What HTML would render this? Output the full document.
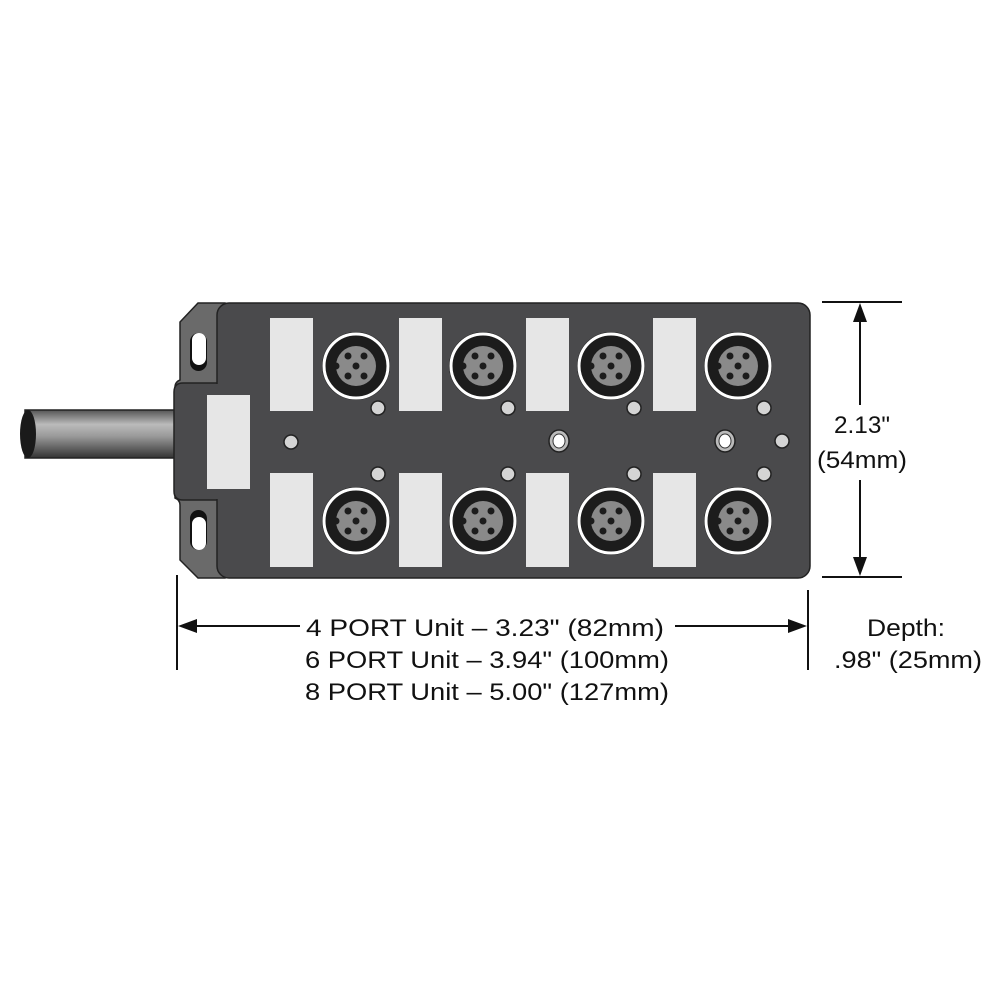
<!DOCTYPE html>
<html><head><style>body{margin:0;background:#fff}svg{display:block}</style></head><body>
<svg width="1000" height="1000" viewBox="0 0 1000 1000" xmlns="http://www.w3.org/2000/svg" font-family="'Liberation Sans Narrow','Liberation Sans',sans-serif">
<defs>
<linearGradient id="cab" x1="0" y1="0" x2="0" y2="1">
<stop offset="0" stop-color="#555"/><stop offset="0.3" stop-color="#bbb"/><stop offset="0.55" stop-color="#999"/><stop offset="1" stop-color="#333"/>
</linearGradient>
<g id="con">
<circle r="34" fill="#1c1c1c"/><circle r="32" fill="none" stroke="#fff" stroke-width="3"/>
<circle r="28" fill="#1c1c1c"/><circle r="20" fill="#8a8a8a"/>
<circle cx="-20" cy="0" r="3.5" fill="#1c1c1c"/>
<circle cx="-8" cy="-10" r="3.5" fill="#1c1c1c"/><circle cx="8" cy="-10" r="3.5" fill="#1c1c1c"/>
<circle cx="0" cy="0" r="3.5" fill="#1c1c1c"/>
<circle cx="-8" cy="10" r="3.5" fill="#1c1c1c"/><circle cx="8" cy="10" r="3.5" fill="#1c1c1c"/>
</g>
<g id="led"><circle r="7" fill="#d4d4d4" stroke="#222" stroke-width="1.5"/></g>
</defs>
<rect x="25" y="410" width="155" height="48" fill="url(#cab)" stroke="#222" stroke-width="1.5"/>
<ellipse cx="28" cy="434" rx="8" ry="24" fill="#1a1a1a"/>
<path d="M198 303 L225 303 L225 578 L198 578 L180 560 L180 505 Q180 500 175 498 L175 387 Q175 382 180 380 L180 322 Z" fill="#6a6a6a" stroke="#222" stroke-width="1.5"/>
<rect x="190" y="333" width="17" height="38" rx="8.5" fill="#111"/>
<rect x="192" y="333" width="14" height="32" rx="7" fill="#fff"/>
<rect x="190" y="510" width="17" height="40" rx="8.5" fill="#111"/>
<rect x="192" y="517" width="14" height="33" rx="7" fill="#fff"/>
<path d="M174 392 Q174 383 183 383 L230 383 L230 500 L183 500 Q174 500 174 491 Z" fill="#4a4a4c" stroke="#222" stroke-width="1.5"/>
<rect x="217" y="303" width="593" height="275" rx="12" fill="#4a4a4c" stroke="#222" stroke-width="1.5"/>
<rect x="212" y="384" width="10" height="115" fill="#4a4a4c"/>
<g fill="#e6e6e6">
<rect x="207" y="395" width="43" height="94"/>
<rect x="270" y="318" width="43" height="93"/><rect x="399" y="318" width="43" height="93"/><rect x="526" y="318" width="43" height="93"/><rect x="653" y="318" width="43" height="93"/>
<rect x="270" y="473" width="43" height="94"/><rect x="399" y="473" width="43" height="94"/><rect x="526" y="473" width="43" height="94"/><rect x="653" y="473" width="43" height="94"/>
</g>
<use href="#con" x="356" y="366"/><use href="#con" x="483" y="366"/><use href="#con" x="611" y="366"/><use href="#con" x="738" y="366"/>
<use href="#con" x="356" y="521"/><use href="#con" x="483" y="521"/><use href="#con" x="611" y="521"/><use href="#con" x="738" y="521"/>
<use href="#led" x="378" y="408"/><use href="#led" x="508" y="408"/><use href="#led" x="634" y="408"/><use href="#led" x="764" y="408"/>
<use href="#led" x="378" y="474"/><use href="#led" x="508" y="474"/><use href="#led" x="634" y="474"/><use href="#led" x="764" y="474"/>
<use href="#led" x="291" y="442"/><use href="#led" x="782" y="441"/>
<ellipse cx="559" cy="441" rx="10" ry="11" fill="#bbb" stroke="#222" stroke-width="1.5"/><ellipse cx="559" cy="441" rx="6" ry="7" fill="#fff" stroke="#333"/>
<ellipse cx="725" cy="441" rx="10" ry="11" fill="#bbb" stroke="#222" stroke-width="1.5"/><ellipse cx="725" cy="441" rx="6" ry="7" fill="#fff" stroke="#333"/>
<g stroke="#111" stroke-width="2">
<line x1="822" y1="302" x2="902" y2="302"/><line x1="822" y1="577" x2="902" y2="577"/>
<line x1="860" y1="315" x2="860" y2="405"/><line x1="860" y1="480" x2="860" y2="565"/>
<line x1="177" y1="575" x2="177" y2="670"/><line x1="808" y1="590" x2="808" y2="670"/>
<line x1="190" y1="626" x2="300" y2="626"/><line x1="675" y1="626" x2="795" y2="626"/>
</g>
<g fill="#111">
<path d="M860 303 L853 322 L867 322 Z"/><path d="M860 576 L853 557 L867 557 Z"/>
<path d="M178 626 L197 619 L197 633 Z"/><path d="M807 626 L788 619 L788 633 Z"/>
</g>
<g font-size="24" fill="#111" text-anchor="middle">
<text x="862" y="433" textLength="56" lengthAdjust="spacingAndGlyphs">2.13"</text>
<text x="862" y="468" textLength="90" lengthAdjust="spacingAndGlyphs">(54mm)</text>
<text x="485" y="636" textLength="358" lengthAdjust="spacingAndGlyphs">4 PORT Unit – 3.23" (82mm)</text>
<text x="487" y="668" textLength="364" lengthAdjust="spacingAndGlyphs">6 PORT Unit – 3.94" (100mm)</text>
<text x="487" y="700" textLength="364" lengthAdjust="spacingAndGlyphs">8 PORT Unit – 5.00" (127mm)</text>
<text x="906" y="636" textLength="78" lengthAdjust="spacingAndGlyphs">Depth:</text>
<text x="908" y="668" textLength="148" lengthAdjust="spacingAndGlyphs">.98" (25mm)</text>
</g>
</svg>
</body></html>
